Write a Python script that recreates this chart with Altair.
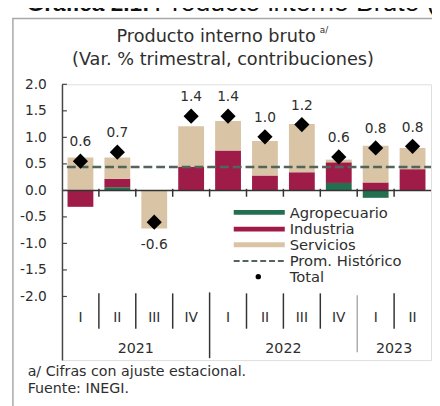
import altair as alt
import pandas as pd

quarters = ["2021-I", "2021-II", "2021-III", "2021-IV", "2022-I", "2022-II",
            "2022-III", "2022-IV", "2023-I", "2023-II"]
q_labels = ["I", "II", "III", "IV", "I", "II", "III", "IV", "I", "II"]
agro = [0.00, 0.06, 0.00, 0.00, 0.00, 0.00, 0.00, 0.14, -0.14, 0.00]
industria = [-0.31, 0.16, 0.00, 0.44, 0.75, 0.28, 0.34, 0.39, 0.15, 0.40]
servicios = [0.62, 0.40, -0.72, 0.77, 0.56, 0.65, 0.91, 0.05, 0.69, 0.40]
total = [0.55, 0.72, -0.60, 1.40, 1.40, 1.01, 1.24, 0.63, 0.80, 0.83]
total_labels = ["0.6", "0.7", "-0.6", "1.4", "1.4", "1.0", "1.2", "0.6", "0.8", "0.8"]
prom_historico = 0.44
years = ["2021", "2022", "2023"]
year_anchor = ["2021-III", "2022-III", "2023-II"]
y_ticks = [-2.0, -1.5, -1.0, -0.5, 0.0, 0.5, 1.0, 1.5, 2.0]
components = ["Agropecuario", "Industria", "Servicios"]
comp_colors = ["#22704f", "#a01c48", "#d9c4a6"]

FONT = "DejaVu Sans"
INK = "#2e2e2e"

rows = []
for i, q in enumerate(quarters):
    for k, (name, vals) in enumerate(zip(components, [agro, industria, servicios])):
        rows.append({"q": q, "comp": name, "v": vals[i], "ord": k})
bars_df = pd.DataFrame(rows)
tot_df = pd.DataFrame({"q": quarters, "total": total, "lab": total_labels, "ql": q_labels})
bound_df = pd.DataFrame({"q": quarters[1:]})
year_df = pd.DataFrame({"year": years, "q": year_anchor})
tick_df = pd.DataFrame({"t": y_ticks})
one = pd.DataFrame({"k": [0]})

xscale = alt.Scale(domain=quarters, paddingInner=0, paddingOuter=0)
yscale = alt.Scale(domain=[-3.2, 2.0], nice=False, zero=False)
yaxis = alt.Axis(values=y_ticks, labelExpr="replace(format(datum.value, '.1f'), '\u2212', '-')",
                 tickSize=0, labelPadding=16, domainColor="#444", domainWidth=1.5,
                 labelColor=INK, labelFontSize=14, labelFont=FONT, grid=False, title=None,
                 labelOverlap=False)


def X(field, **kw):
    return alt.X(field, type="nominal", scale=xscale, axis=None, sort=None, **kw)


def Y(field):
    return alt.Y(field, type="quantitative", scale=yscale, axis=yaxis)


def YD(v):
    return alt.YDatum(v, type="quantitative", scale=yscale, axis=yaxis)


bars = alt.Chart(bars_df).mark_bar(width=alt.RelativeBandSize(0.7)).encode(
    x=X("q"),
    y=Y("v"),
    color=alt.Color("comp:N", scale=alt.Scale(domain=components, range=comp_colors), legend=None),
    order=alt.Order("ord:Q", sort="ascending"),
)

zero_line = alt.Chart(one).mark_rule(color="#333", strokeWidth=1.5).encode(
    y=YD(0), x=alt.value(0), x2=alt.value(376))

zero_ticks = alt.Chart(bound_df).mark_rule(color="#333", strokeWidth=1.5).encode(
    x=X("q", bandPosition=0), y=YD(0.03), y2=alt.Y2Datum(-0.12))

y_inner_ticks = alt.Chart(tick_df).mark_rule(color="#444", strokeWidth=1.2).encode(
    y=Y("t"), x=alt.value(0), x2=alt.value(5))

prom = alt.Chart(one).mark_rule(color="#53645a", strokeWidth=2.5, strokeDash=[9, 4]).encode(
    y=YD(prom_historico), x=alt.value(5), x2=alt.value(376))

diamonds = alt.Chart(tot_df).mark_point(shape="diamond", filled=True, size=240,
                                        color="black", opacity=1).encode(x=X("q"), y=Y("total"))

lab_pos = alt.Chart(tot_df).transform_filter("datum.total >= 0").mark_text(
    dy=-19, fontSize=14, color=INK, font=FONT).encode(x=X("q"), y=Y("total"), text="lab:N")
lab_neg = alt.Chart(tot_df).transform_filter("datum.total < 0").mark_text(
    dy=23, fontSize=14, color=INK, font=FONT).encode(x=X("q"), y=Y("total"), text="lab:N")

# category axis (quarters / years)
q_text = alt.Chart(tot_df).mark_text(fontSize=14, color=INK, font=FONT).encode(
    x=X("q"), y=alt.value(238), text="ql:N")
sep_short = alt.Chart(bound_df).transform_filter(
    "datum.q != '2022-I' && datum.q != '2023-I'").mark_rule(color="#333", strokeWidth=1.5).encode(
    x=X("q", bandPosition=0), y=alt.value(213), y2=alt.value(249))
sep_long = alt.Chart(bound_df).transform_filter(
    "datum.q == '2022-I'").mark_rule(color="#333", strokeWidth=1.5).encode(
    x=X("q", bandPosition=0), y=alt.value(212), y2=alt.value(279))
sep_long2 = alt.Chart(bound_df).transform_filter(
    "datum.q == '2023-I'").mark_rule(color="#999", strokeWidth=1.2).encode(
    x=X("q", bandPosition=0), y=alt.value(215), y2=alt.value(273))
year_text = alt.Chart(year_df).mark_text(fontSize=14.5, color=INK, font=FONT).encode(
    x=X("q", bandPosition=0), y=alt.value(270), text="year:N")

# frame and texts
frame = alt.Chart(one).mark_rect(fill=None, stroke="#a8a8a8", strokeWidth=1.5).encode(
    x=alt.value(-50), x2=alt.value(400), y=alt.value(-67), y2=alt.value(340))


def txt(s, x, y, size, align="center", weight="normal", font=FONT, color=INK, baseline="middle"):
    return alt.Chart(one).mark_text(text=s, fontSize=size, align=align, fontWeight=weight,
                                    font=font, color=color, baseline=baseline).encode(
        x=alt.value(x), y=alt.value(y))


texts = [
    txt("Gráfica 2.1:", -36, -75, 23, align="left", weight="bold", font="Liberation Sans",
        color="#111", baseline="alphabetic"),
    txt("Producto interno Bruto (PIB)", 94, -75, 27, align="left", font="Liberation Sans",
        color="#111", baseline="alphabetic"),
    txt("Producto interno bruto", 157, -48, 18),
    txt("a/", 267, -55, 9),
    txt("(Var. % trimestral, contribuciones)", 164, -25, 18),
    txt("a/ Cifras con ajuste estacional.", -35, 293, 14.5, align="left"),
    txt("Fuente: INEGI.", -35, 310, 14.5, align="left"),
]

# legend
legend_layers = []
leg_y = [131, 148, 164, 180, 196]
for i, name in enumerate(components):
    legend_layers.append(alt.Chart(one).mark_rect(color=comp_colors[i]).encode(
        x=alt.value(175), x2=alt.value(227), y=alt.value(leg_y[i] - 3), y2=alt.value(leg_y[i] + 2)))
legend_layers.append(alt.Chart(one).mark_rule(color="#53645a", strokeWidth=2, strokeDash=[6, 3]).encode(
    x=alt.value(175), x2=alt.value(227), y=alt.value(leg_y[3])))
legend_layers.append(alt.Chart(one).mark_point(shape="circle", filled=True, size=30, color="black",
                                               opacity=1).encode(
    x=alt.value(200), y=alt.value(leg_y[4])))
for i, name in enumerate(components + ["Prom. Histórico", "Total"]):
    legend_layers.append(txt(name, 232, leg_y[i], 15, align="left"))

chart = alt.layer(
    frame, bars, prom, zero_line, zero_ticks, y_inner_ticks, diamonds, lab_pos, lab_neg,
    q_text, sep_short, sep_long, sep_long2, year_text, *texts, *legend_layers
).properties(
    width=376, height=281,
    autosize=alt.AutoSizeParams(type="none"),
    padding={"left": 55, "top": 74, "right": 1, "bottom": 43},
).configure_view(stroke=None).configure(font=FONT).configure_axis(labelOverlap=False)

chart.save("out.html", embed_options={"renderer": "svg", "actions": False})
